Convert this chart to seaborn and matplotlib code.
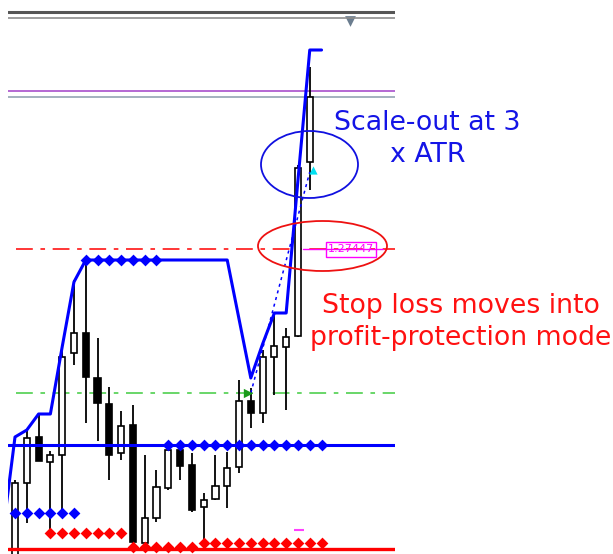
import numpy as np
import pandas as pd
import seaborn as sns
import matplotlib.pyplot as plt
from matplotlib.patches import Ellipse

# candle data (index, open, high, low, close)
candle_idx = list(range(1, 27))
opens = [1.2419, 1.2511, 1.2557, 1.2532, 1.2539, 1.2641, 1.2661, 1.2616, 1.2590, 1.2541,
         1.2569, 1.2451, 1.2476, 1.2506, 1.2544, 1.2529, 1.2487, 1.2495, 1.2508, 1.2527,
         1.2593, 1.2581, 1.2637, 1.2647, 1.2658, 1.2832]
highs = [1.2514, 1.2564, 1.2579, 1.2543, 1.2644, 1.2714, 1.2734, 1.2656, 1.2607, 1.2583,
         1.2589, 1.2539, 1.2524, 1.2551, 1.2548, 1.2541, 1.2501, 1.2539, 1.2542, 1.2614,
         1.2606, 1.2644, 1.2679, 1.2666, 1.2829, 1.2927]
lows = [1.2409, 1.2471, 1.2533, 1.2464, 1.2482, 1.2629, 1.2571, 1.2553, 1.2514, 1.2534,
        1.2447, 1.2449, 1.2472, 1.2504, 1.2514, 1.2482, 1.2453, 1.2494, 1.2486, 1.2521,
        1.2566, 1.2571, 1.2599, 1.2584, 1.2657, 1.2804]
closes = [1.2511, 1.2556, 1.2533, 1.2539, 1.2637, 1.2661, 1.2617, 1.2591, 1.2539, 1.2568,
          1.2452, 1.2476, 1.2507, 1.2544, 1.2528, 1.2484, 1.2494, 1.2508, 1.2526, 1.2593,
          1.2581, 1.2637, 1.2648, 1.2657, 1.2826, 1.2897]

# trailing stop line
trail_idx = list(range(0, 28))
trail_vals = [1.2464, 1.2557, 1.2564, 1.2580, 1.2580, 1.2647, 1.2712, 1.2734, 1.2734, 1.2734,
              1.2734, 1.2734, 1.2734, 1.2734, 1.2734, 1.2734, 1.2734, 1.2734, 1.2734, 1.2734,
              1.2675, 1.2616, 1.2650, 1.2681, 1.2681, 1.2814, 1.2944, 1.2944]

# marker rows
upper_dia_idx = list(range(7, 14))
upper_dia_val = 1.2734
mid_dia_idx = list(range(14, 28))
mid_level = 1.2549
low_blue_idx = list(range(1, 7))
low_blue_val = 1.2481
red_dia_idx_a = list(range(4, 11))
red_dia_val_a = 1.2461
red_dia_idx_b = list(range(11, 17))
red_dia_val_b = 1.2447
red_dia_idx_c = list(range(17, 28))
red_dia_val_c = 1.2451
red_level = 1.2445

stop_level = 1.27447
entry_level = 1.2601
purple_level = 1.2903
bid_level = 1.2897
entry_path_idx = [21, 26]
entry_path_val = [1.2601, 1.2822]

sns.set_style("white")
fig = plt.figure(figsize=(6.13, 5.54), dpi=100)
ax = fig.add_axes([8/613, 0, 387/613, 1])
ax.set_xlim(0.406, 33.23)
ax.set_ylim(1.2440, 1.2994)
ax.axis('off')

# top separator lines and triangle
ax.plot([0, 1], [1-12/554]*2, transform=ax.transAxes, color='#555555', lw=2.2)
ax.plot([0, 1], [1-17.5/554]*2, transform=ax.transAxes, color='#8c8c8c', lw=1.2)
ax.scatter([0.884], [1-21/554], transform=ax.transAxes, marker='v', s=60, color='#6b7d8f', lw=0)

# horizontal price lines
ax.axhline(purple_level, color='#a040c8', lw=1.1)
ax.axhline(bid_level, color='#8a9cae', lw=1.1)
ax.axhline(stop_level, xmin=0.02, color='#ff0000', lw=1.1, dashes=(11, 5, 3, 5))
ax.axhline(entry_level, xmin=0.02, color='#40cc40', lw=1.1, dashes=(11, 5, 3, 5))

# candles
for i, o, h, l, c in zip(candle_idx, opens, highs, lows, closes):
    ax.vlines(i, l, h, color='black', lw=1.3, zorder=2)
    fc = 'white' if c >= o else 'black'
    ax.bar(i, abs(c - o), bottom=min(o, c), width=0.52, color=fc, edgecolor='black', lw=1.2, zorder=3)

# levels
ax.axhline(mid_level, color='#0000ff', lw=2.2, zorder=4)
ax.axhline(red_level, color='#ff0000', lw=2.4, zorder=4)

sns.lineplot(x=trail_idx, y=trail_vals, ax=ax, color='#0000ff', lw=2.2, estimator=None, zorder=5)
sns.lineplot(x=entry_path_idx, y=entry_path_val, ax=ax, color='#0000ff', lw=1.1,
             estimator=None, dashes=False, zorder=5).lines[-1].set_dashes((2, 2.5))

kw = dict(marker='D', s=36, linewidth=0, ax=ax, zorder=6, legend=False)
sns.scatterplot(x=upper_dia_idx, y=[upper_dia_val]*len(upper_dia_idx), color='#0000ff', **kw)
sns.scatterplot(x=mid_dia_idx, y=[mid_level]*len(mid_dia_idx), color='#0000ff', **kw)
sns.scatterplot(x=low_blue_idx, y=[low_blue_val]*len(low_blue_idx), color='#0000ff', **kw)
sns.scatterplot(x=red_dia_idx_a, y=[red_dia_val_a]*len(red_dia_idx_a), color='#ff0000', **kw)
sns.scatterplot(x=red_dia_idx_b, y=[red_dia_val_b]*len(red_dia_idx_b), color='#ff0000', **kw)
sns.scatterplot(x=red_dia_idx_c, y=[red_dia_val_c]*len(red_dia_idx_c), color='#ff0000', **kw)

# arrows
ax.scatter([20.75], [entry_level], marker='>', s=45, color='#1a9a1a', zorder=7, lw=0)
ax.scatter([26.25], [1.2824], marker='^', s=35, color='#00e0f0', zorder=7, lw=0)
ax.scatter([25.05], [1.2464], marker='_', s=60, color='#ff40ff', zorder=7, lw=1.5)

# stop label
ax.plot([25.4, 32.2], [stop_level]*2, color='#ff00ff', lw=1.0, zorder=6)
ax.text(29.5, stop_level, '1.27447', color='#ff00ff', fontsize=8, ha='center', va='center', zorder=7,
        bbox=dict(boxstyle='square,pad=0.2', fc='none', ec='#ff00ff', lw=1.0))

# ellipses
fig.add_artist(Ellipse((309.5/613, 1-164.5/554), 97/613, 67/554, transform=fig.transFigure,
                       fill=False, ec='#1010e0', lw=1.3))
fig.add_artist(Ellipse((322.5/613, 1-246/554), 129/613, 50/554, transform=fig.transFigure,
                       fill=False, ec='#ee1111', lw=1.3))

# annotations
fig.text(427.5/613, 1-130/554, 'Scale-out at 3', color='#1414e6', fontsize=19.3, ha='center', va='baseline')
fig.text(428/613, 1-162/554, 'x ATR', color='#1414e6', fontsize=19.3, ha='center', va='baseline')
fig.text(461/613, 1-313/554, 'Stop loss moves into', color='#ff1111', fontsize=19.3, ha='center', va='baseline')
fig.text(461/613, 1-345/554, 'profit-protection mode', color='#ff1111', fontsize=19.3, ha='center', va='baseline')

fig.savefig('out.png', dpi=100)
